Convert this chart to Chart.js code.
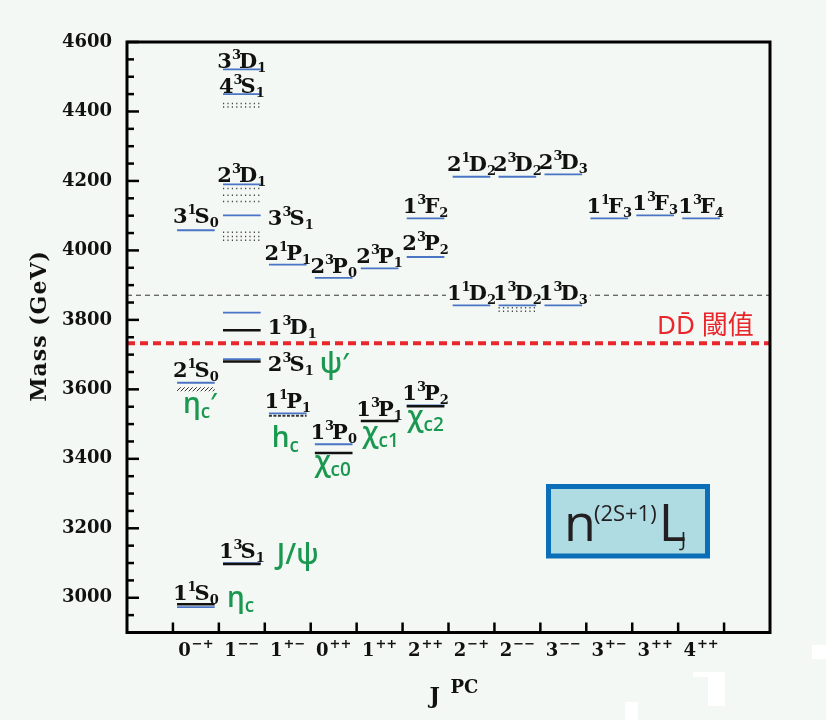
<!DOCTYPE html>
<html>
<head>
<meta charset="utf-8">
<script src="https://cdn.jsdelivr.net/npm/chart.js@4.4.1/dist/chart.umd.min.js"></script>
<style>
  html, body { margin: 0; padding: 0; background: #f3f8f5; }
  canvas { display: block; }
</style>
</head>
<body>
<canvas id="spectrum" width="826" height="720"></canvas>
<script>
// J^PC columns
const jpcBase = ["0", "1", "1", "0", "1", "2", "2", "2", "3", "3", "3", "4"];
const jpcSup = ["−+", "−−", "+−", "++", "++", "++", "−+", "−−", "−−", "+−", "++", "++"];
const yTicks = [3000, 3200, 3400, 3600, 3800, 4000, 4200, 4400, 4600];

// predicted levels (blue)
const predCol = [0, 0, 0, 1, 1, 1, 1, 1, 1, 1, 2, 2, 3, 3, 4, 5, 5, 5, 6, 6, 7, 7, 8, 8, 9, 10, 11];
const predMass = [2973, 3619, 4058, 3100, 3687, 3821, 4101, 4190, 4450, 4521, 3531, 3959, 3442, 3921,
  3948, 3554, 3981, 4092, 3842, 4212, 3842, 4212, 3842, 4219, 4092, 4101, 4092];

// observed levels (black)
const expCol = [0, 1, 1, 1, 3, 4, 5];
const expMass = [2981, 3097, 3680, 3770, 3417, 3509, 3551];

// h_c (dashed) and eta_c' (hatched)
const hcCol = [2];
const hcMass = [3524];
const etaPrimeCol = [0];
const etaPrimeMass = [3600];

// dotted bands
const dotCol = [1, 1, 1, 1, 1, 1, 1, 1, 7, 7];
const dotMass = [4052, 4040, 4029, 4178, 4159, 4141, 4423, 4413, 3835, 3825];

// thresholds
const ddThreshold = 3733;
const ddStarThreshold = 3871;

// state names: n, 2S+1, L, J
const stateName = ["11S0", "21S0", "31S0", "13S1", "23S1", "13D1", "33S1", "23D1", "43S1", "33D1",
  "11P1", "21P1", "13P0", "23P0", "13P1", "23P1", "13P2", "23P2", "13F2", "11D2", "21D2",
  "13D2", "23D2", "13D3", "23D3", "11F3", "13F3", "13F4"];
const stateCol = [0, 0, 0, 1, 1, 1, 1, 1, 1, 1, 2, 2, 3, 3, 4, 4, 5, 5, 5, 6, 6, 7, 7, 8, 8, 9, 10, 11];
const stateMass = [2973, 3619, 4058, 3100, 3687, 3821, 4101, 4190, 4450, 4521, 3531, 3959, 3442, 3921,
  3509, 3948, 3554, 3981, 4092, 3842, 4212, 3842, 4212, 3842, 4219, 4092, 4101, 4092];

// particle names (green)
const partMain = ["η", "J/ψ", "ψ", "η", "h", "χ", "χ", "χ"];
const partSub = ["c", "", "", "c", "c", "c0", "c1", "c2"];
const partPrime = ["", "", "′", "′", "", "", "", ""];
const partCol = [0, 1, 1, 0, 2, 3, 4, 5];
const partMass = [2981, 3097, 3680, 3600, 3524, 3417, 3509, 3551];

// label placement (pixels)
const labelPlace = {
  "23S1": ["right", 12], "13D1": ["right", 21], "33S1": ["right", 10],
  "23D1": ["above", -2], "43S1": ["above", -1], "33D1": ["above", -1],
  "11S0": ["above", -7], "21S0": ["above", -6], "31S0": ["above", -7],
  "23P2": ["above", -7], "21D2": ["above", -6], "23D2": ["above", -6],
};
const partOffset = [[31, 3], [35, 0], [78, 11], [-13, 24], [-16, 31], [-19, 18], [-17, 21], [-18, 20]];

const BLUE = "#4a74c4";
const GREEN = "#1a9850";
const RED = "#e8262b";
const BG = "#f3f8f5";
const HALF = 0.41;

function segs(cols, masses) {
  const pts = [];
  cols.forEach((c, k) => {
    pts.push({ x: c - HALF, y: masses[k] }, { x: c + HALF, y: masses[k] }, { x: c, y: null });
  });
  return pts;
}

// hatch pattern for eta_c'
const hatch = document.createElement("canvas");
hatch.width = 4;
hatch.height = 4;
const hctx = hatch.getContext("2d");
hctx.strokeStyle = "#333";
hctx.lineWidth = 1;
hctx.beginPath();
hctx.moveTo(0, 4);
hctx.lineTo(4, 0);
hctx.stroke();
const hatchPattern = hctx.createPattern(hatch, "repeat");

const bigFont = 'bold 21px "DejaVu Serif"';
const smallFont = 'bold 13px "DejaVu Serif"';

function stateLayout(ctx, name, cx, ly) {
  const place = labelPlace[name] || ["above", -5];
  const parts = [[name[0], bigFont, 0], [name[1], smallFont, -9], [name[2], bigFont, 0], [name[3], smallFont, 4]];
  let w = 0;
  parts.forEach((p) => {
    ctx.font = p[1];
    p.push(ctx.measureText(p[0]).width);
    w += p[3];
  });
  w -= 2;
  const x0 = place[0] === "right" ? cx + 26 : cx - w / 2;
  return { parts, x0, w, base: ly + place[1] };
}

function eachState(chart, fn) {
  const xs = chart.scales.x, ys = chart.scales.y;
  stateName.forEach((name, k) => {
    const lay = stateLayout(chart.ctx, name, xs.getPixelForValue(stateCol[k]), ys.getPixelForValue(stateMass[k]));
    fn(lay);
  });
}

const decor = {
  id: "decor",
  beforeDraw(chart) {
    const ctx = chart.ctx;
    ctx.save();
    ctx.fillStyle = BG;
    ctx.fillRect(0, 0, chart.width, chart.height);
    ctx.restore();
  },
  afterDatasetDraw(chart, args) {
    // cover the dashed line behind the state names
    if (chart.data.datasets[args.index].label !== "DD* threshold") return;
    const ctx = chart.ctx;
    ctx.save();
    ctx.fillStyle = BG;
    eachState(chart, (l) => ctx.fillRect(l.x0 - 1, l.base - 16, l.w + 3, 17));
    ctx.restore();
  },
  afterDraw(chart) {
    const ctx = chart.ctx;
    const xs = chart.scales.x, ys = chart.scales.y;
    const a = chart.chartArea;
    ctx.save();

    // frame
    ctx.strokeStyle = "#000";
    ctx.lineWidth = 3;
    ctx.strokeRect(a.left, a.top, a.right - a.left, a.bottom - a.top);

    // y ticks (inward)
    ctx.lineWidth = 2.5;
    for (let v = ys.min + 50; v <= ys.max; v += 50) {
      const y = ys.getPixelForValue(v);
      const len = v % 200 === 0 ? 12 : 7;
      ctx.beginPath();
      ctx.moveTo(a.left, y);
      ctx.lineTo(a.left + len, y);
      ctx.stroke();
    }
    // x ticks between columns
    for (let i = -0.5; i <= jpcBase.length - 0.5; i += 1) {
      const x = xs.getPixelForValue(i);
      ctx.beginPath();
      ctx.moveTo(x, a.bottom);
      ctx.lineTo(x, a.bottom - 10);
      ctx.stroke();
    }

    // x tick labels
    ctx.fillStyle = "#111";
    ctx.textBaseline = "alphabetic";
    ctx.textAlign = "left";
    jpcBase.forEach((b, i) => {
      ctx.font = 'bold 18px "DejaVu Serif"';
      const wb = ctx.measureText(b).width;
      ctx.font = 'bold 13px "DejaVu Serif"';
      const ws = ctx.measureText(jpcSup[i]).width;
      const x0 = xs.getPixelForValue(i) - (wb + ws + 1) / 2;
      ctx.font = 'bold 18px "DejaVu Serif"';
      ctx.fillText(b, x0, a.bottom + 23);
      ctx.font = 'bold 13px "DejaVu Serif"';
      ctx.fillText(jpcSup[i], x0 + wb + 1, a.bottom + 15);
    });

    // axis titles
    const cx = (a.left + a.right) / 2;
    ctx.font = 'bold 22px "DejaVu Serif"';
    ctx.fillText("J", cx - 19, a.bottom + 70);
    ctx.font = 'bold 18px "DejaVu Serif"';
    ctx.fillText("PC", cx + 2, a.bottom + 60);

    ctx.save();
    ctx.translate(40, 326);
    ctx.rotate(-Math.PI / 2);
    ctx.textAlign = "center";
    ctx.textBaseline = "middle";
    ctx.font = 'bold 22px "DejaVu Serif"';
    ctx.letterSpacing = "1px";
    ctx.fillText("Mass (GeV)", 0, 0);
    ctx.restore();

    // state names
    ctx.fillStyle = "#111";
    eachState(chart, (l) => {
      let x = l.x0;
      l.parts.forEach((p, j) => {
        ctx.font = p[1];
        ctx.fillText(p[0], x, l.base + p[2]);
        x += p[3] - (j === 1 ? 2 : 0);
      });
    });

    // particle names
    ctx.fillStyle = GREEN;
    partMain.forEach((m, k) => {
      let x = xs.getPixelForValue(partCol[k]) + partOffset[k][0];
      const base = ys.getPixelForValue(partMass[k]) + partOffset[k][1];
      ctx.font = '600 28px "Open Sans", "Noto Sans"';
      ctx.fillText(m, x, base);
      x += ctx.measureText(m).width;
      if (partSub[k]) {
        ctx.font = '600 19px "Open Sans", "Noto Sans"';
        ctx.fillText(partSub[k], x, base + 5);
        x += ctx.measureText(partSub[k]).width;
      }
      if (partPrime[k]) {
        ctx.font = '600 26px "Open Sans", "Noto Sans"';
        ctx.fillText(partPrime[k], x, base - 2);
      }
    });

    // threshold text
    ctx.fillStyle = RED;
    ctx.font = '26px "Noto Sans", "Noto Sans CJK TC", sans-serif';
    ctx.fillText("DD\u0304 閾值", 657, ys.getPixelForValue(ddThreshold) - 9);

    // notation box
    ctx.fillStyle = "#aedce2";
    ctx.fillRect(548, 486, 160, 70);
    ctx.strokeStyle = "#0b6eb8";
    ctx.lineWidth = 5;
    ctx.strokeRect(548.5, 486.5, 159, 69.5);
    ctx.fillStyle = "#231f20";
    ctx.font = '52px "Open Sans"';
    ctx.fillText("n", 564, 541);
    let bx = 564 + ctx.measureText("n").width;
    ctx.font = '22px "Open Sans"';
    ctx.fillText("(2S+1)", bx - 2, 521);
    bx += ctx.measureText("(2S+1)").width - 2;
    ctx.font = '52px "Open Sans"';
    ctx.fillText("L", bx + 2, 541);
    bx += ctx.measureText("L").width + 2;
    ctx.font = '20px "Open Sans"';
    ctx.fillText("J", bx - 5, 546);

    // scan artefacts
    ctx.fillStyle = "#ffffff";
    ctx.fillRect(693, 672, 32, 5);
    ctx.fillRect(708, 672, 17, 34);
    ctx.fillRect(625, 702, 13, 18);
    ctx.fillRect(812, 645, 14, 14);
    ctx.restore();
  },
};

new Chart(document.getElementById("spectrum"), {
  type: "line",
  data: {
    datasets: [
      {
        label: "DD threshold",
        data: [{ x: -1.5, y: ddThreshold }, { x: 12.5, y: ddThreshold }],
        borderColor: RED, borderWidth: 4, borderDash: [8, 5], order: 6,
      },
      {
        label: "DD* threshold",
        data: [{ x: -1.5, y: ddStarThreshold }, { x: 12.5, y: ddStarThreshold }],
        borderColor: "#333", borderWidth: 1, borderDash: [5, 4], order: 5,
      },
      { label: "bands", data: segs(dotCol, dotMass), borderColor: "#444", borderWidth: 1.5, borderDash: [1.2, 3.2], order: 4 },
      { label: "etac2S", data: segs(etaPrimeCol, etaPrimeMass), borderColor: hatchPattern, borderWidth: 4, order: 3 },
      { label: "hc", data: segs(hcCol, hcMass), borderColor: "#333", borderWidth: 2, borderDash: [3, 1.5], order: 3 },
      { label: "predicted", data: segs(predCol, predMass), borderColor: BLUE, borderWidth: 1.8, order: 2 },
      { label: "observed", data: segs(expCol, expMass), borderColor: "#111", borderWidth: 2.5, order: 1 },
    ],
  },
  options: {
    responsive: false,
    animation: false,
    spanGaps: false,
    elements: { point: { radius: 0 }, line: { tension: 0, borderCapStyle: "butt" } },
    layout: { padding: { top: 42, right: 56, left: 0, bottom: 0 } },
    plugins: { legend: { display: false }, tooltip: { enabled: false } },
    scales: {
      x: {
        type: "linear", min: -1.5, max: 12.5,
        ticks: { display: false },
        grid: { display: false },
        border: { display: false },
        afterFit: (s) => { s.height = 87.5; },
      },
      y: {
        min: 2900, max: 4600,
        afterBuildTicks: (s) => { s.ticks = yTicks.map((v) => ({ value: v })); },
        ticks: {
          color: "#111", padding: 7,
          font: { family: "DejaVu Serif", size: 18, weight: "bold" },
          callback: (v) => String(v),
        },
        grid: { display: false },
        border: { display: false },
        afterFit: (s) => { s.width = 127; },
      },
    },
  },
  plugins: [decor],
});
</script>
</body>
</html>
